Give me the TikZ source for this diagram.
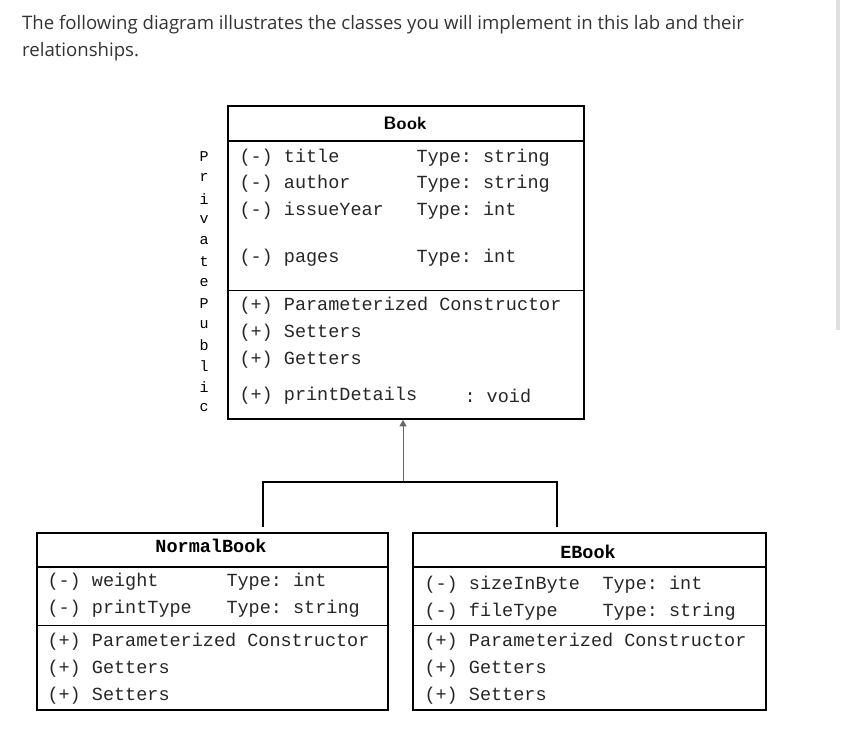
\documentclass[tikz,border=0pt]{standalone}
\usepackage{fontspec}
\setmainfont{Open Sans}
\setmonofont{Liberation Mono}
\usetikzlibrary{arrows}
\tikzset{
  mono/.style={anchor=west,yshift=-2pt,font=\ttfamily\fontsize{18.5}{20}\selectfont,text=black!85},
  box/.style={line width=1.4pt},
  sep/.style={line width=0.8pt},
}
\begin{document}
\begin{tikzpicture}[x=1pt,y=-1pt]
\useasboundingbox (0,0) rectangle (842,755);
\node[anchor=west,inner sep=0pt,font=\fontsize{18.6}{22}\selectfont,text=black!80] (intro1) at (22,25) {The following diagram illustrates the classes you will implement in this lab and their};
\node[anchor=west,inner sep=0pt,font=\fontsize{18.6}{22}\selectfont,text=black!80] (intro2) at (22,52) {relationships.};
\fill[black!12] (836,0) rectangle (840,330);

% Book
\draw[box] (228,106) rectangle (584,419);
\draw[line width=1.8pt] (228,141) -- (584,141);
\draw[sep] (228,290) -- (584,290);
\node[font=\sffamily\bfseries\fontsize{18}{20}\selectfont] (book) at (405,123) {Book};
\foreach \txt/\typ/\y in {title/string/156,author/string/182,issueYear/int/209,pages/int/256}
{
  \node[mono] at (236,\y) {(-) \txt};
  \node[mono] at (413,\y) {Type: \typ};
}
\foreach \txt/\y in {Parameterized Constructor/304,Setters/331,Getters/358,printDetails/394}
  \node[mono] at (236,\y) {(+) \txt};
\node[mono] at (461,394) {: void};
\foreach \ch [count=\i from 0] in {P,r,i,v,a,t,e,P,u,b,l,i,c}
  \node[font=\ttfamily\fontsize{15}{16}\selectfont] at (204,157+20.9*\i) {\ch};

% inheritance
\coordinate (fork) at (403,482);
\coordinate (bookbase) at (403,420);
\draw[black!60,line width=0.7pt,-triangle 60] (fork) -- (bookbase);
\draw[line width=2.4pt] (263,527) -- (263,482) -- (557,482) -- (557,527);

% NormalBook
\draw[box] (37,533) rectangle (388,710);
\draw[line width=1.8pt] (37,567) -- (388,567);
\draw[sep] (37,625) -- (388,625);
\node[font=\ttfamily\bfseries\fontsize{18.5}{20}\selectfont] (normal) at (211,546) {NormalBook};
\node[mono] at (44,580) {(-) weight};
\node[mono] at (223,580) {Type: int};
\node[mono] at (44,607) {(-) printType};
\node[mono] at (223,607) {Type: string};
\foreach \txt/\y in {Parameterized Constructor/640,Getters/667,Setters/694}
  \node[mono] at (44,\y) {(+) \txt};

% EBook
\draw[box] (413,533) rectangle (766,710);
\draw[line width=1.8pt] (413,567) -- (766,567);
\draw[sep] (413,625) -- (766,625);
\node[font=\ttfamily\bfseries\fontsize{18.5}{20}\selectfont] (ebook) at (588,552) {EBook};
\node[mono] at (421,583) {(-) sizeInByte};
\node[mono] at (599,583) {Type: int};
\node[mono] at (421,610) {(-) fileType};
\node[mono] at (599,610) {Type: string};
\foreach \txt/\y in {Parameterized Constructor/640,Getters/667,Setters/694}
  \node[mono] at (421,\y) {(+) \txt};
\end{tikzpicture}
\end{document}
